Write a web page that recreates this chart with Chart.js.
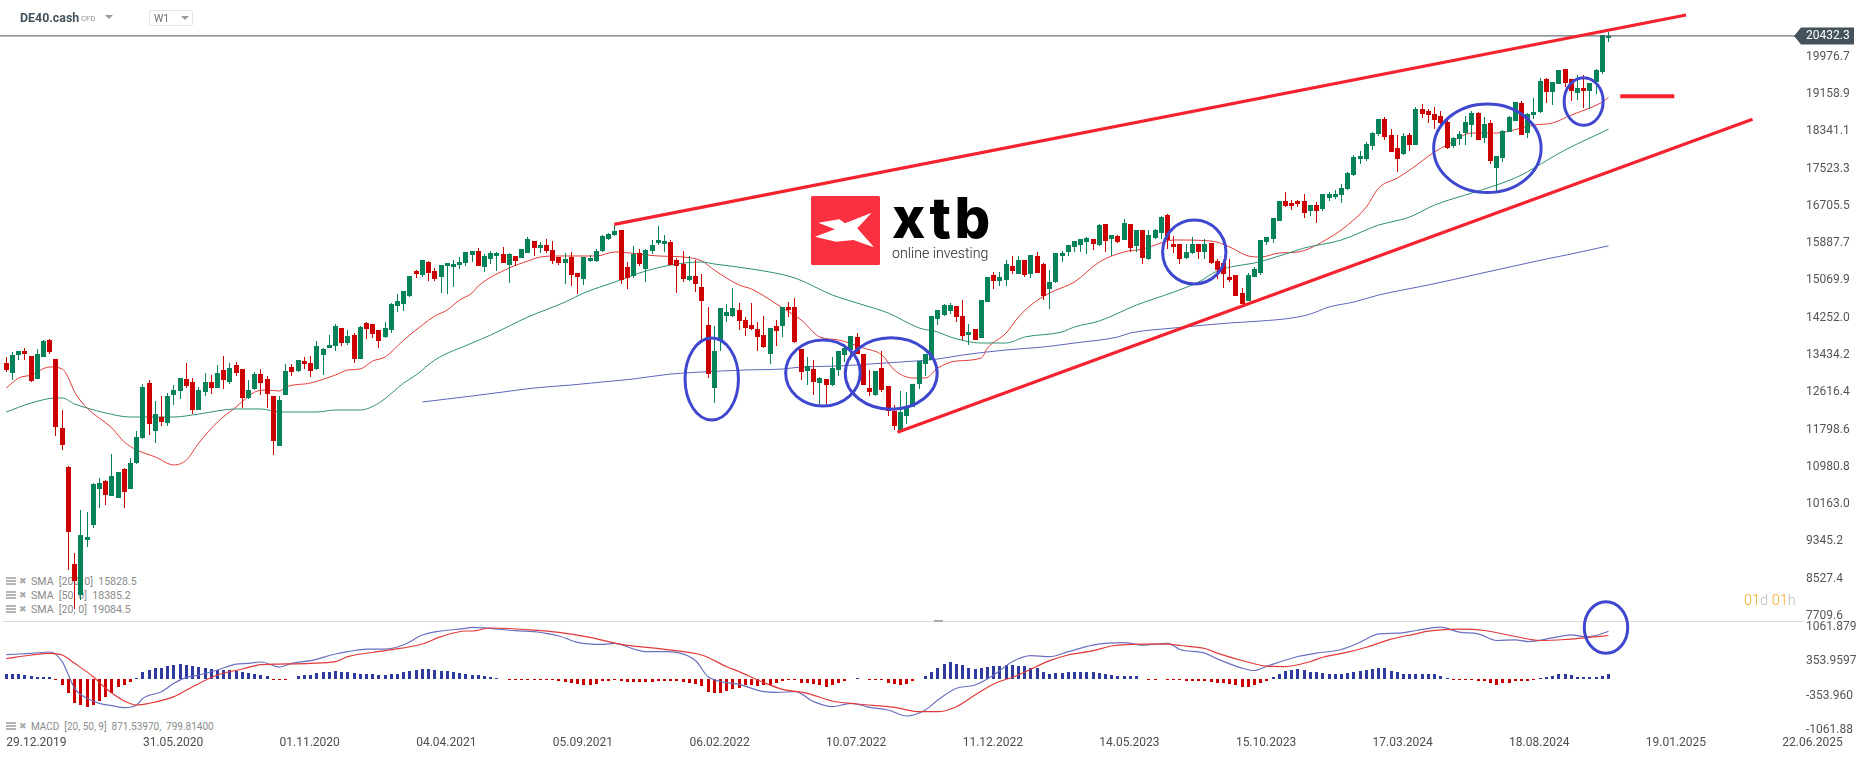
<!DOCTYPE html>
<html>
<head>
<meta charset="utf-8">
<title>DE40.cash W1</title>
<script src="https://cdn.jsdelivr.net/npm/chart.js@4/dist/chart.umd.min.js"></script>
<style>
  html, body { margin: 0; padding: 0; background: #fff; width: 1866px; height: 759px; overflow: hidden; font-family: Roboto, sans-serif; }
  #chart { position: absolute; left: 0; top: 0; z-index: 1; }
  .txt { position: absolute; white-space: nowrap; line-height: 1; }
  .over { z-index: 2; }
  .caret { position: absolute; width: 0; height: 0; border-left: 4px solid transparent; border-right: 4px solid transparent; border-top: 4px solid #9a9a9a; z-index: 2; }
  .icon { position: absolute; left: 6px; width: 10px; height: 8px; background: repeating-linear-gradient(#b5b5b5 0 2px, #fff 2px 3px); z-index: 0; }
  .legend { left: 31px; font-size: 10.6px; color: #8a8a8a; z-index: 0; }
  .cross { left: 19px; font-size: 9px; color: #aaa; font-family: "DejaVu Sans", sans-serif; z-index: 0; }
</style>
</head>
<body>
<div class="txt over" style="left:20px;top:12px;font-size:12.4px;font-weight:700;color:#43525c">DE40.cash</div>
<div class="txt over" style="left:81px;top:15px;font-size:7.6px;color:#8c8c8c">CFD</div>
<div class="caret" style="left:105px;top:15px"></div>
<div class="over" style="position:absolute;left:149px;top:10px;width:42px;height:14px;border:1px solid #e6e6e6;border-radius:2px"></div>
<div class="txt over" style="left:154px;top:14px;font-size:10.5px;color:#6e6e6e">W1</div>
<div class="caret" style="left:181px;top:16px"></div>

<div class="icon" style="top:577px"></div><div class="txt cross" style="top:577px">✖</div>
<div class="txt legend" style="top:577px">SMA&nbsp; [200, 0]&nbsp; 15828.5</div>
<div class="icon" style="top:591px"></div><div class="txt cross" style="top:591px">✖</div>
<div class="txt legend" style="top:591px">SMA&nbsp; [50, 0]&nbsp; 18385.2</div>
<div class="icon" style="top:605px"></div><div class="txt cross" style="top:605px">✖</div>
<div class="txt legend" style="top:605px">SMA&nbsp; [20, 0]&nbsp; 19084.5</div>
<div class="icon" style="top:722px"></div><div class="txt cross" style="top:722px">✖</div>
<div class="txt legend" style="top:722px;font-size:10px">MACD&nbsp; [20, 50, 9]&nbsp; 871.53970,&nbsp; 799.81400</div>

<div class="txt over" style="left:1744px;top:594px;font-size:14.5px;font-weight:300"><span style="color:#f5a623">01</span><span style="color:#bdbdbd">d</span> <span style="color:#f5a623">01</span><span style="color:#bdbdbd">h</span></div>

<div style="position:absolute;left:3px;top:621px;width:1800px;height:1px;background:#dcdcdc;z-index:0"></div>
<div style="position:absolute;left:934px;top:620px;width:9px;height:2px;background:#aaa;z-index:0"></div>

<svg style="position:absolute;left:811px;top:196px;z-index:2" width="69" height="69" viewBox="0 0 69 69">
  <rect width="69" height="69" rx="1.5" fill="#fa3040"/>
  <polygon fill="#fff" points="7.3,26.7 28.3,23.3 34,27.3 60.7,16.7 46.3,32.3 63,51.3 42.3,44 25,45.7 4,40.7 24,33.3"/>
</svg>
<div class="txt over" style="left:892px;top:190px;font-family:Inter,sans-serif;font-size:56px;font-weight:800;color:#000;letter-spacing:3.5px">xtb</div>
<div class="txt over" style="left:892px;top:246px;font-size:14.2px;font-weight:300;color:#222">online investing</div>

<canvas id="chart" width="1866" height="759"></canvas>

<script>
// --- DATA ---
const tickWeeks = [0, 22, 44, 66, 88, 110, 132, 154, 176, 198, 220, 242, 264, 286];
const dateLabels = ["29.12.2019", "31.05.2020", "01.11.2020", "04.04.2021", "05.09.2021", "06.02.2022", "10.07.2022", "11.12.2022", "14.05.2023", "15.10.2023", "17.03.2024", "18.08.2024", "19.01.2025", "22.06.2025"];

const lastPrice = 20432.3;
const priceTicks = [20432.3, 19976.7, 19158.9, 18341.1, 17523.3, 16705.5, 15887.7, 15069.9, 14252.0, 13434.2, 12616.4, 11798.6, 10980.8, 10163.0, 9345.2, 8527.4, 7709.6];
const macdTicks = [1061.879, 353.9597, -353.96, -1061.88];
const macdTickLabels = ["1061.879", "353.9597", "-353.960", "-1061.88"];

const opens = [
  13259,13040,13435,13523,13413,12909,13391,13764,13347,11834,
  10979,8851,8172,9378,9707,10496,10672,10343,10299,10935,
  10496,11066,11615,12821,11768,12075,11944,12558,12645,12909,
  12843,12229,12623,12843,12711,13106,12843,13215,13128,12492,
  12689,13018,12909,12536,11439,12558,13172,13084,13303,13259,
  13128,13435,13588,13632,14027,13698,13873,13347,14137,14115,
  13983,13830,13983,14509,14553,14729,15277,15189,15474,15277,
  15146,15387,15365,15409,15452,15628,15716,15365,15540,15606,
  15650,15409,15606,15562,15672,15935,15781,15847,15738,15584,
  15452,15584,15233,15102,15496,15496,15716,15979,16067,16176,
  15365,15167,15672,15321,15716,15891,15869,15913,15518,15431,
  15080,15167,14926,14093,12711,13764,14290,14290,14422,14202,
  14093,14005,13873,13457,14071,14071,14488,14488,13567,13084,
  13128,12821,12909,12777,13106,13435,13545,13830,13457,12711,
  12558,13150,12755,12207,11768,12097,12294,12799,13237,13325,
  14224,14312,14400,14509,14290,13874,14005,13808,14597,15189,
  15058,15080,15387,15211,15518,15211,15606,15431,14882,15036,
  15606,15694,15803,15847,15913,15979,15847,16308,15979,16045,
  15957,16308,15825,16176,15540,16001,16110,16505,15869,15869,
  15562,15672,15869,15694,15891,15496,15452,15146,15189,14795,
  14619,15146,15233,15913,15979,16373,16812,16768,16812,16812,
  16593,16724,16637,16878,16900,16944,17075,17382,17733,17733,
  18018,18281,18610,18259,17974,17843,18259,18040,18830,18786,
  18720,18676,18545,18018,18172,18303,18479,18742,18194,18523,
  17536,17755,18325,18566,18961,18303,18698,18764,19488,19202,
  19378,19707,19488,19181,19290,19224,19422,19641,20387
];
const closes = [
  13106,13435,13523,13457,12865,13457,13742,13501,11856,11461,
  9553,8479,9488,9444,10606,10628,10365,10781,10869,10430,
  11066,11636,12733,11922,12141,11965,12536,12667,12930,12755,
  12229,12667,12843,12711,13040,12887,13150,13040,12492,12667,
  13018,12821,12580,11549,12448,13084,13062,13325,13237,13084,
  13632,13567,13654,14071,13698,13852,13347,14049,14005,13895,
  13742,14027,14553,14619,14838,15167,15211,15518,15233,15102,
  15409,15453,15431,15474,15694,15716,15387,15606,15672,15672,
  15452,15650,15496,15760,15979,15781,15847,15716,15496,15452,
  15540,15189,15146,15584,15562,15716,16045,16088,16154,15080,
  15123,15650,15431,15738,15847,15957,15935,15409,15387,15102,
  15167,14992,14619,13018,13523,14466,14378,14466,14180,14027,
  14005,13830,13610,14027,13961,14488,14422,13720,13062,13193,
  12843,12930,12777,13150,13523,13588,13852,13457,12777,12623,
  13084,12667,12207,11878,12185,12294,12799,13303,13457,14290,
  14422,14531,14531,14268,13852,13939,13764,14641,15146,15058,
  15146,15431,15277,15518,15189,15628,15233,14729,15036,15672,
  15672,15847,15935,15979,16001,15869,16286,15935,16067,15913,
  16330,15781,16176,15562,16067,16176,16461,15957,15803,15540,
  15694,15869,15694,15869,15452,15299,15211,15080,14729,14553,
  15189,15321,15957,16023,16439,16812,16702,16702,16746,16549,
  16724,16593,16966,16966,16966,17097,17426,17777,17799,18062,
  18303,18610,18216,17887,17733,18238,18040,18830,18720,18698,
  18588,18523,17974,18194,18281,18545,18742,18150,18501,17689,
  17799,18347,18654,18983,18259,18720,18764,19444,19202,19422,
  19685,19400,19224,19290,19224,19400,19685,20453,20432.3
];
const highs = [
  13391,13501,13523,13588,13413,13567,13764,13786,13347,12229,
  11001,9093,10036,9992,10628,10737,10694,11264,10869,10957,
  11176,11768,12799,12887,12426,12536,12602,12777,12930,13259,
  12930,12733,13040,12996,13215,13413,13259,13281,13128,12887,
  13062,13128,12974,12536,12536,13237,13237,13325,13391,13413,
  13742,13588,13873,14115,14027,13983,13917,14071,14159,14115,
  13983,14159,14575,14773,14838,15167,15299,15518,15496,15343,
  15409,15453,15518,15584,15694,15716,15781,15650,15716,15694,
  15803,15672,15606,15760,16023,15935,15913,15979,15935,15584,
  15672,15694,15233,15584,15628,15760,16067,16110,16286,16176,
  15474,15825,15760,15760,15957,16264,16067,15957,15562,15716,
  15606,15518,15211,14488,14071,14466,14553,14904,14575,14268,
  14575,14159,14290,14027,14202,14488,14597,14685,13567,13391,
  13325,12952,12909,13391,13523,13676,13852,13917,13457,13106,
  13084,13523,12755,12338,12645,12623,12799,13303,13457,14290,
  14422,14553,14575,14509,14641,14115,14005,14641,15146,15255,
  15255,15518,15606,15606,15518,15628,15694,15452,15299,15672,
  15716,15847,15935,15979,16023,15979,16308,16308,16067,16067,
  16417,16308,16176,16176,16176,16198,16483,16527,16045,15869,
  15869,16023,15869,15979,15891,15540,15452,15540,15189,14904,
  15233,15365,15957,16023,16439,16812,17009,16834,16834,16966,
  16724,16790,16966,17009,17053,17185,17448,17821,17909,18106,
  18325,18610,18654,18391,18259,18303,18303,18874,18939,18830,
  18874,18786,18654,18216,18347,18676,18786,18764,18654,18588,
  17799,18369,18676,18983,19005,18742,19071,19510,19510,19422,
  19685,19707,19488,19575,19575,19400,19707,20453,20518
];
const lows = [
  13062,12887,13325,13325,12843,12909,13391,13457,11658,11352,
  8720,7865,8062,9224,9641,10080,10145,10343,10299,10080,
  10496,11044,11593,11680,11505,11878,11878,12338,12470,12711,
  12141,12229,12536,12580,12711,12689,12799,12974,12273,12470,
  12667,12558,12273,11242,11439,12558,12974,13062,13128,12952,
  13106,12996,13588,13523,13632,13654,13259,13347,13786,13808,
  13588,13808,13917,14378,14400,14707,15123,15146,15058,15058,
  14795,14773,14926,15321,15387,15474,15387,15255,15431,15277,
  15452,15014,15387,15562,15672,15606,15672,15672,15431,15409,
  14992,14948,14773,14970,15474,15474,15694,15957,16045,14992,
  14882,15123,15387,15036,15650,15847,15694,15409,14795,15036,
  15058,14816,13764,12930,12382,13523,14158,14268,13983,13852,
  13983,13523,13588,13237,13632,13830,14268,13698,12887,12777,
  12558,12360,12360,12755,12974,13281,13325,13457,12777,12536,
  12536,12623,12097,11790,11746,11922,12294,12689,12974,13325,
  14093,14290,14334,14158,13764,13654,13764,13808,14597,14882,
  14948,14948,15211,15211,15146,15123,15233,14641,14444,15014,
  15474,15606,15694,15694,15650,15738,15825,15694,15606,15891,
  15957,15694,15694,15431,15518,15979,15979,15760,15672,15431,
  15540,15650,15540,15540,15431,15102,14904,15036,14729,14553,
  14619,15146,15189,15847,15891,16373,16680,16615,16680,16439,
  16483,16330,16593,16812,16856,16768,17053,17360,17624,17689,
  17931,18238,18150,17887,17448,17821,17909,18040,18632,18523,
  18391,18479,17952,17974,18040,18040,18216,18150,18084,17623,
  17009,17667,18325,18566,18259,18194,18610,18742,18961,18917,
  19378,19312,19005,19027,18852,18830,19158,19597,20299
];

const sma20Weeks = [0,2,4,7,9,10,11,13,17,19,21,24,27,29,31,34,37,40,42,44,45,49,53,55,57,59,61,64,67,69,71,73,75,76,81,84,86,89,95,98,105,109,112,114,118,120,125,128,131,134,138,141,143,146,148,150,153,157,158,161,163,165,168,172,176,180,183,185,188,194,197,200,202,205,208,213,216,219,221,224,226,230,232,236,240,244,246,249,252,255,257,258];
const sma20 = [12711,12930,12996,13172,13128,12930,12623,12273,11834,11527,11352,11198,11023,11132,11505,11965,12294,12623,12667,12645,12733,12821,12996,13106,13128,13303,13391,13764,14093,14290,14422,14641,14795,14948,15343,15496,15584,15606,15606,15694,15606,15584,15496,15299,14970,14882,14466,14202,13830,13764,13588,13435,13106,12930,12930,13150,13303,13369,13588,13917,14268,14531,14795,15036,15474,15694,15760,15847,15957,15935,15803,15606,15584,15672,15694,16001,16286,16680,17097,17316,17492,17887,18040,18303,18303,18413,18479,18523,18698,18852,18983,19084.5];

const sma50Weeks = [0,4,8,9,11,13,16,20,23,27,31,37,41,44,50,53,57,60,64,66,69,75,78,84,90,93,98,103,108,112,114,120,127,133,137,142,147,150,152,157,161,164,170,172,176,182,188,192,195,198,201,206,209,215,221,223,226,230,236,240,244,246,251,255,258];
const sma50 = [12185,12382,12492,12492,12360,12273,12163,12075,12075,12075,12141,12251,12251,12185,12185,12229,12229,12382,12821,12996,13325,13698,13873,14268,14597,14795,15036,15277,15431,15474,15431,15321,15123,14751,14575,14356,14027,13939,13830,13698,13698,13830,13939,14049,14180,14531,14816,15036,15277,15387,15452,15650,15781,15957,16286,16352,16461,16724,16987,17163,17382,17536,17931,18194,18385.2];

const sma200Weeks = [67,71,75,80,85,91,96,101,107,112,119,125,128,134,139,144,150,154,161,167,172,179,181,188,197,202,207,210,213,217,221,224,229,237,248,252,258];
const sma200 = [12404,12470,12536,12623,12711,12777,12843,12909,13018,13062,13106,13128,13172,13193,13237,13281,13347,13435,13545,13610,13698,13830,13917,14027,14137,14180,14246,14334,14488,14597,14751,14838,14970,15211,15540,15650,15828.5];

const macdWeeks = [0,4,7,9,10,11,13,15,17,19,21,22,25,27,29,31,34,37,39,41,44,46,49,53,55,58,61,64,67,70,74,75,78,82,85,89,92,96,98,101,103,106,111,113,118,122,124,127,130,133,136,139,142,145,148,150,153,156,159,162,165,168,171,175,180,183,187,189,193,195,199,201,203,208,211,215,218,221,224,227,231,234,237,240,243,245,249,252,254,256,258];
const macdLine = [495,523,551,350,73,-204,-412,-516,-565,-606,-551,-412,-274,-100,24,73,177,301,315,343,239,315,371,509,558,613,613,703,904,988,1043,1064,1043,994,974,884,752,710,731,613,558,558,371,38,-121,-274,-288,-274,-482,-586,-516,-599,-655,-780,-655,-447,-204,-135,73,350,475,454,558,696,745,696,731,603,527,409,215,166,256,457,527,603,755,929,942,998,1067,963,929,790,804,769,845,908,873,894,984];

const signalWeeks = [0,4,7,9,11,14,16,19,21,23,27,30,34,38,41,44,49,53,55,61,67,70,74,75,78,85,89,94,99,106,112,116,118,122,125,129,133,137,143,147,150,153,156,159,163,168,171,175,178,183,187,189,193,195,199,203,206,210,212,216,219,223,227,229,234,238,243,247,251,254,258];
const signalLine = [412,489,523,489,315,38,-204,-468,-551,-516,-378,-170,73,197,288,301,315,350,454,579,717,870,988,988,1050,1008,960,856,710,606,489,246,142,-87,-225,-308,-468,-530,-599,-690,-690,-586,-343,-114,73,371,489,579,676,717,717,686,624,527,374,256,249,353,443,547,651,818,929,984,1026,998,873,790,811,845,894];

const macdHist = [
  84,84,84,63,42,28,28,21,-35,-140,
  -308,-504,-560,-602,-546,-462,-392,-294,-182,-140,
  -63,14,140,168,210,210,252,273,294,273,
  252,238,210,196,182,168,168,154,126,112,
  84,63,42,-28,-28,-21,0,42,63,70,
  119,126,140,147,140,126,105,98,98,84,
  70,63,84,98,126,154,175,189,189,168,
  147,147,126,105,84,70,63,42,21,14,
  0,-14,-14,-14,-14,-14,-14,-21,-28,-49,
  -70,-98,-112,-126,-126,-105,-56,-42,-21,-42,
  -63,-70,-70,-70,-63,-56,-42,-42,-42,-70,
  -84,-112,-154,-280,-308,-294,-266,-210,-196,-140,
  -140,-154,-126,-126,-84,-42,-28,-28,-84,-98,
  -112,-140,-168,-126,-84,-56,0,14,0,-7,
  -14,-21,-84,-112,-126,-112,-56,0,56,140,
  224,294,336,308,280,210,196,210,238,252,
  259,280,280,266,252,224,210,140,98,105,
  105,126,126,126,126,126,112,98,70,56,
  56,42,42,0,-14,-14,0,-14,-14,-21,
  -42,-56,-56,-56,-70,-84,-98,-112,-140,-168,
  -168,-140,-84,-42,21,98,154,182,189,168,
  140,126,112,98,98,98,112,126,154,168,
  196,210,210,154,126,98,84,84,84,84,
  84,56,14,-14,-21,-28,-28,-42,-56,-98,
  -126,-98,-84,-56,-42,-42,-21,14,28,56,
  84,84,70,28,28,21,21,42,84
];

// hand drawn marks on the picture
const upperTrendWeeks = [97.9, 270.5];
const upperTrend = [16301, 20891];
const lowerTrendWeeks = [143.5, 281.2];
const lowerTrend = [11740, 18604];
const targetWeeks = [259.9, 268.6];
const target = [19108, 19108];

const circleWeeks = [113.6, 131.5, 142.5, 191.3, 238.5, 254, 257.6];
const circleLevels = [12908, 13040, 13029, 15694, 17968, 18994, 1061];
const circleWeekRadii = [4.3, 6, 7.4, 5.1, 8.65, 3.14, 3.5];
const circleLevelRadii = [899, 724, 783, 702, 971, 522, 537];
const circleAxes = ["y", "y", "y", "y", "y", "y", "macd"];

// --- HELPERS ---
const GREEN = "#05825a";
const RED = "#cc0000";
const HIST_BLUE = "#2e3a9f";
const TREND_RED = "#f5222f";

function toPoints(weeks, values) {
  return weeks.map((w, k) => ({ x: w, y: values[k] }));
}

function lineSet(weeks, values, color, width, yAxisID, order) {
  return {
    type: "line",
    data: toPoints(weeks, values),
    borderColor: color,
    borderWidth: width,
    pointRadius: 0,
    cubicInterpolationMode: "monotone",
    fill: false,
    yAxisID: yAxisID,
    order: order,
  };
}

const candleColors = closes.map((c, i) => (c >= opens[i] ? GREEN : RED));

// the platform draws candles on whole pixels, so snap ours too
const snapBars = {
  id: "snapBars",
  afterDatasetsUpdate(chart) {
    chart.data.datasets.forEach((ds, i) => {
      const meta = chart.getDatasetMeta(i);
      if (meta.type !== "bar") return;
      meta.data.forEach((bar) => {
        bar.x = Math.floor(bar.x) + 0.5;
        if (bar.y === bar.base) return;
        const top = Math.round(Math.min(bar.y, bar.base));
        let bottom = Math.round(Math.max(bar.y, bar.base));
        if (bottom === top) bottom = top + 1;
        bar.y = top;
        bar.base = bottom;
      });
    });
  },
};

const priceTag = {
  id: "priceTag",
  beforeDraw(chart) {
    const y = chart.scales.y.getPixelForValue(lastPrice);
    const right = chart.chartArea.right;
    const ctx = chart.ctx;
    ctx.save();
    ctx.fillStyle = "#44525b";
    ctx.beginPath();
    ctx.moveTo(right - 6, y);
    ctx.lineTo(right + 1, y - 8.5);
    ctx.lineTo(right + 54, y - 8.5);
    ctx.lineTo(right + 54, y + 8.5);
    ctx.lineTo(right + 1, y + 8.5);
    ctx.closePath();
    ctx.fill();
    ctx.restore();
  },
};

const circles = {
  id: "circles",
  afterDatasetsDraw(chart) {
    const ctx = chart.ctx;
    const xs = chart.scales.x;
    ctx.save();
    ctx.strokeStyle = "#3f47cf";
    ctx.lineWidth = 3;
    circleWeeks.forEach((week, k) => {
      const ys = chart.scales[circleAxes[k]];
      const cx = xs.getPixelForValue(week);
      const cy = ys.getPixelForValue(circleLevels[k]);
      const rx = xs.getPixelForValue(week + circleWeekRadii[k]) - cx;
      const ry = cy - ys.getPixelForValue(circleLevels[k] + circleLevelRadii[k]);
      ctx.beginPath();
      ctx.ellipse(cx, cy, rx, ry, 0, 0, Math.PI * 2);
      ctx.stroke();
    });
    ctx.restore();
  },
};

// long tick labels must not push the plot area inwards
function noScalePadding(scale) {
  scale.paddingLeft = 0;
  scale.paddingRight = 0;
  scale.paddingTop = 0;
  scale.paddingBottom = 0;
}

// --- CHART ---
const weeks = opens.map((_, i) => i);
const chart = new Chart(document.getElementById("chart").getContext("2d"), {
  type: "bar",
  data: {
    datasets: [
      {
        label: "wicks",
        data: weeks.map((i) => ({ x: i, y: [lows[i], highs[i]] })),
        backgroundColor: candleColors,
        barThickness: 1,
        grouped: false,
        inflateAmount: 0,
        yAxisID: "y",
        order: 9,
      },
      {
        label: "bodies",
        data: weeks.map((i) => ({ x: i, y: [opens[i], closes[i]] })),
        backgroundColor: candleColors,
        barThickness: 5,
        grouped: false,
        inflateAmount: 0,
        yAxisID: "y",
        order: 8,
      },
      {
        label: "histogram",
        data: weeks.map((i) => ({ x: i, y: macdHist[i] })),
        backgroundColor: macdHist.map((v) => (v >= 0 ? HIST_BLUE : RED)),
        barThickness: 3,
        grouped: false,
        inflateAmount: 0,
        yAxisID: "macd",
        order: 8,
      },
      lineSet(sma200Weeks, sma200, "#5f65bc", 1, "y", 10),
      lineSet(sma50Weeks, sma50, "#2f9070", 1, "y", 10),
      lineSet(sma20Weeks, sma20, "#e23a3a", 1, "y", 10),
      lineSet(macdWeeks, macdLine, "#6a70c0", 1.2, "macd", 5),
      lineSet(signalWeeks, signalLine, "#e23a3a", 1.2, "macd", 4),
      lineSet([-1, 289], [lastPrice, lastPrice], "#44525b", 1, "y", 3),
      lineSet(upperTrendWeeks, upperTrend, TREND_RED, 3.2, "y", 2),
      lineSet(lowerTrendWeeks, lowerTrend, TREND_RED, 3.2, "y", 2),
      lineSet(targetWeeks, target, TREND_RED, 4, "y", 2),
    ],
  },
  plugins: [snapBars, priceTag, circles],
  options: {
    responsive: false,
    animation: false,
    events: [],
    layout: { padding: 0 },
    plugins: { legend: { display: false }, tooltip: { enabled: false } },
    scales: {
      x: {
        type: "linear",
        position: "bottom",
        offset: false,
        min: -1.0145,
        max: 288.84,
        grid: { display: false, drawTicks: false, offset: false },
        border: { display: false },
        afterFit: (scale) => { scale.height = 24; noScalePadding(scale); },
        afterBuildTicks: (scale) => { scale.ticks = tickWeeks.map((value) => ({ value })); },
        ticks: {
          callback: (v) => dateLabels[tickWeeks.indexOf(v)],
          align: "start",
          autoSkip: false,
          maxRotation: 0,
          minRotation: 0,
          padding: 1,
          color: "#4d4d4d",
          font: { family: "Roboto", size: 12 },
        },
      },
      y: {
        type: "linear",
        position: "right",
        stack: "right",
        stackWeight: 621,
        min: 7601.5,
        max: 21220,
        grid: { display: false, drawTicks: false },
        border: { display: false },
        afterFit: (scale) => { scale.width = 66; noScalePadding(scale); },
        afterBuildTicks: (scale) => { scale.ticks = priceTicks.map((value) => ({ value })); },
        ticks: {
          callback: (v) => v.toFixed(1),
          autoSkip: false,
          padding: 6,
          crossAlign: "near",
          color: (c) => (c.tick && c.tick.value === lastPrice ? "#ffffff" : "#555555"),
          font: { family: "Roboto", size: 12 },
        },
      },
      macd: {
        type: "linear",
        position: "right",
        stack: "right",
        stackWeight: 114,
        min: -1175,
        max: 1196,
        grid: { display: false, drawTicks: false },
        border: { display: false },
        afterFit: (scale) => { scale.width = 66; noScalePadding(scale); },
        afterBuildTicks: (scale) => { scale.ticks = macdTicks.map((value) => ({ value })); },
        ticks: {
          callback: (v) => macdTickLabels[macdTicks.indexOf(v)],
          autoSkip: false,
          padding: 6,
          crossAlign: "near",
          color: "#555555",
          font: { family: "Roboto", size: 12 },
        },
      },
    },
  },
});
</script>
</body>
</html>
